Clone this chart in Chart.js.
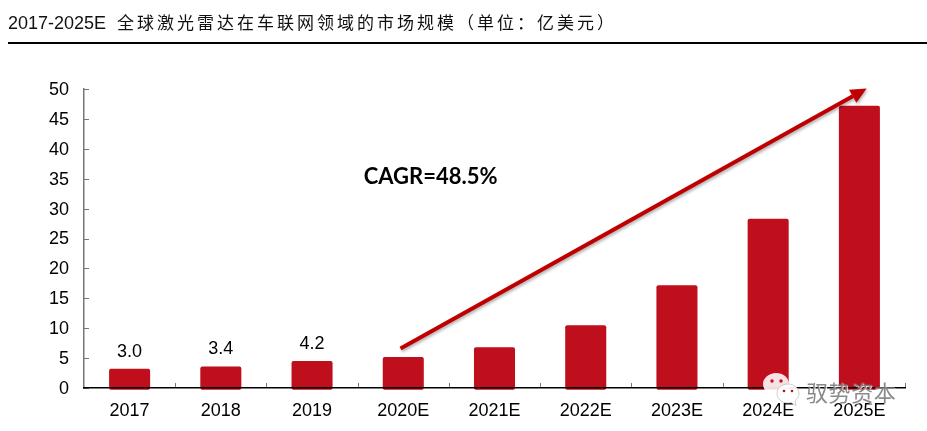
<!DOCTYPE html>
<html>
<head>
<meta charset="utf-8">
<style>
  html, body { margin: 0; padding: 0; background: #fff; }
  #wrap { position: relative; width: 927px; height: 431px; overflow: hidden; }
  #chart { position: absolute; left: 0; top: 0; }
  #title {
    position: absolute; left: 8px; top: 9px; white-space: nowrap; color: #111;
    font: 18px "Liberation Sans", sans-serif;
  }
  #title span {
    font: 400 17px "Noto Sans CJK SC", sans-serif; letter-spacing: 3px; margin-left: 6px;
  }
  #rule { position: absolute; left: 8px; right: 0; top: 42px; height: 2px; background: #000; }
  #mark { position: absolute; left: 763px; top: 372px; }
  #marktext {
    position: absolute; left: 806px; top: 375px; white-space: nowrap; color: rgba(125,125,125,0.9);
    font: 22px "Noto Sans CJK SC", sans-serif; letter-spacing: 0.6px;
    text-shadow: 1px 1px 1px rgba(255,255,255,0.9);
  }
</style>
<script src="https://cdn.jsdelivr.net/npm/chart.js@4/dist/chart.umd.js"></script>
</head>
<body>
<div id="wrap">
  <canvas id="chart" width="927" height="431"></canvas>
  <div id="title">2017-2025E <span>全球激光雷达在车联网领域的市场规模（单位：亿美元）</span></div>
  <div id="rule"></div>
  <svg id="mark" width="42" height="36" viewBox="0 0 42 36">
    <path d="M13 1C6 1 0 6 0 12c0 4 2 7 5 9l-1 5 6-3c1 .3 2 .5 3 .5 7 0 13-5 13-11.500S20 1 13 1z" fill="#fff" fill-opacity="0.88"/>
    <circle cx="9" cy="9" r="1.700" fill="#c00f1c"/>
    <circle cx="18" cy="9" r="1.700" fill="#c00f1c"/>
    <path d="M25 12c-6 0-11 4-11 9.500S19 31 25 31c1 0 2 0 3-.4l5 3-1-5c2.500-2 4-4 4-6.600C36 16 31 12 25 12z" fill="#fff" fill-opacity="0.92" stroke="#bbb" stroke-width="0.700"/>
    <circle cx="21" cy="19" r="1.300" fill="#c00f1c"/>
    <circle cx="29" cy="19" r="1.300" fill="#c00f1c"/>
  </svg>
  <div id="marktext">驭势资本</div>
</div>
<script>
const categories = ['2017', '2018', '2019', '2020E', '2021E', '2022E', '2023E', '2024E', '2025E'];
const marketSize = [3.2, 3.6, 4.5, 5.2, 6.8, 10.5, 17.2, 28.3, 47.2];
const valueLabels = ['3.0', '3.4', '4.2'];
const yTicks = [0, 5, 10, 15, 20, 25, 30, 35, 40, 45, 50];
const cagrText = 'CAGR=48.5%';
// arrow ends, in axis units (category index, value)
const arrowFrom = [2.97, 6.6];
const arrowTo = [8.08, 50.1];

const barColor = '#c00f1c';
const arrowColor = '#c00000';
const axisFont = { family: '"Liberation Sans", sans-serif', size: 18 };

const extras = {
  id: 'extras',
  afterDatasetsDraw(chart) {
    const { ctx, scales: { x, y }, chartArea } = chart;
    const bars = chart.getDatasetMeta(0).data;
    ctx.save();

    // small inside ticks
    ctx.strokeStyle = '#777';
    ctx.lineWidth = 1;
    ctx.beginPath();
    yTicks.forEach(t => {
      const py = Math.round(y.getPixelForValue(t)) + 0.5;
      ctx.moveTo(chartArea.left, py);
      ctx.lineTo(chartArea.left + 5, py);
    });
    for (let i = 1; i <= categories.length; i++) {
      const px = Math.round(x.getPixelForValue(i - 0.5)) + 0.5;
      ctx.moveTo(px, chartArea.bottom);
      ctx.lineTo(px, chartArea.bottom - 5);
    }
    ctx.stroke();

    // labels over the first bars
    ctx.fillStyle = '#000';
    ctx.font = '18px "Liberation Sans", sans-serif';
    ctx.textAlign = 'center';
    ctx.textBaseline = 'middle';
    valueLabels.forEach((txt, i) => ctx.fillText(txt, bars[i].x, bars[i].y - 17));

    ctx.font = 'bold 22px Lato, sans-serif';
    ctx.textAlign = 'center';
    ctx.fillText(cagrText, x.getPixelForValue(3.3), y.getPixelForValue(35.3));

    // CAGR arrow
    const x0 = x.getPixelForValue(arrowFrom[0]), y0 = y.getPixelForValue(arrowFrom[1]);
    const x1 = x.getPixelForValue(arrowTo[0]), y1 = y.getPixelForValue(arrowTo[1]);
    const ang = Math.atan2(y1 - y0, x1 - x0);
    const headLen = 16, headHalf = 7.5;
    const bx = x1 - headLen * Math.cos(ang), by = y1 - headLen * Math.sin(ang);
    ctx.shadowColor = 'rgba(0,0,0,0.3)';
    ctx.shadowBlur = 3;
    ctx.shadowOffsetX = 1;
    ctx.shadowOffsetY = 2;
    ctx.strokeStyle = arrowColor;
    ctx.lineWidth = 4;
    ctx.beginPath();
    ctx.moveTo(x0, y0);
    ctx.lineTo(bx, by);
    ctx.stroke();
    ctx.fillStyle = arrowColor;
    ctx.beginPath();
    ctx.moveTo(x1, y1);
    ctx.lineTo(bx - headHalf * Math.sin(ang), by + headHalf * Math.cos(ang));
    ctx.lineTo(bx + headHalf * Math.sin(ang), by - headHalf * Math.cos(ang));
    ctx.closePath();
    ctx.fill();
    ctx.restore();
  }
};

new Chart(document.getElementById('chart').getContext('2d'), {
  type: 'bar',
  data: {
    labels: categories,
    datasets: [{
      data: marketSize,
      base: -0.3,
      clip: false,
      backgroundColor: barColor,
      borderRadius: 2,
      borderSkipped: false,
      barPercentage: 0.45,
      categoryPercentage: 1
    }]
  },
  options: {
    responsive: false,
    animation: false,
    layout: { padding: { top: 89, right: 22 } },
    plugins: { legend: { display: false }, tooltip: { enabled: false } },
    scales: {
      x: {
        grid: { display: false },
        border: { color: '#000', width: 1.5, z: 1 },
        ticks: { color: '#000', font: axisFont, padding: 4, maxRotation: 0, autoSkip: false },
        afterFit(scale) { scale.height = 43; }
      },
      y: {
        min: 0,
        max: 50,
        afterBuildTicks(scale) { scale.ticks = yTicks.map(v => ({ value: v })); },
        grid: { display: false },
        border: { color: '#777', width: 1.5 },
        ticks: { color: '#000', font: axisFont, padding: 7, labelOffset: 1 },
        afterFit(scale) { scale.width = 84; }
      }
    }
  },
  plugins: [extras]
});
</script>
</body>
</html>
